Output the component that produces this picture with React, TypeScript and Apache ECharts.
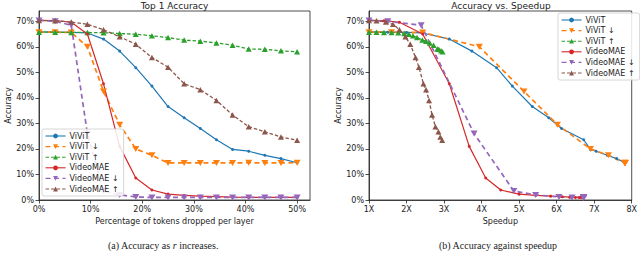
import React, { useEffect, useRef } from 'react';
import * as echarts from 'echarts';

// Percentage of tokens dropped per layer (x of left chart)
const dropPct = [0, 3.125, 6.25, 9.375, 12.5, 15.625, 18.75, 21.875, 25, 28.125, 31.25, 34.375, 37.5, 40.625, 43.75, 46.875, 50];

// Top-1 accuracy (%) per series
const vivitAcc = [65.8, 65.7, 65.6, 65.4, 63.0, 58.3, 51.8, 44.6, 36.6, 32.2, 28.0, 23.6, 19.8, 19.1, 17.5, 16.2, 14.6];
const vivitDownAcc = [65.7, 65.7, 65.6, 60.0, 42.5, 29.5, 20.0, 17.5, 14.5, 14.5, 14.5, 14.5, 14.5, 14.6, 14.5, 14.5, 14.6];
const vivitUpAcc = [65.7, 65.7, 65.6, 65.6, 65.5, 65.2, 64.9, 64.3, 63.6, 62.6, 62.2, 61.5, 60.6, 59.1, 59.0, 58.4, 58.0];
const maeAcc = [70.3, 70.2, 69.6, 65.0, 45.5, 21.0, 8.6, 3.9, 2.3, 1.8, 1.5, 1.3, 1.1, 1.0, 1.0, 1.0, 1.0];
const maeDownAcc = [70.3, 70.0, 68.4, 26.0, 3.5, 2.0, 1.2, 1.0, 1.0, 1.0, 1.0, 1.0, 1.0, 1.0, 1.0, 1.0, 1.0];
const maeUpAcc = [70.3, 70.2, 69.7, 68.8, 66.7, 63.9, 61.0, 55.8, 52.0, 45.5, 43.2, 39.0, 33.3, 28.7, 26.7, 24.7, 23.4];

// Speedup (x of right chart) per series
const vivitSpeed = [1.0, 1.5, 2.0, 2.43, 3.14, 3.74, 4.4, 4.82, 5.35, 5.79, 6.13, 6.72, 6.9, 7.05, 7.35, 7.6, 7.82];
const vivitDownSpeed = [1.0, 1.6, 2.43, 3.94, 5.13, 6.02, 6.9, 7.38, 7.82, 7.82, 7.82, 7.82, 7.82, 7.82, 7.82, 7.82, 7.82];
const vivitUpSpeed = [1.0, 1.2, 1.4, 1.6, 1.78, 1.94, 2.06, 2.17, 2.28, 2.42, 2.52, 2.62, 2.72, 2.82, 2.86, 2.92, 2.96];
const maeSpeed = [1.0, 1.4, 1.81, 2.43, 3.14, 3.67, 4.11, 4.51, 5.0, 5.44, 5.84, 6.15, 6.35, 6.5, 6.6, 6.65, 6.7];
const maeDownSpeed = [1.0, 1.5, 2.39, 3.8, 4.86, 5.44, 6.06, 6.41, 6.72, 6.72, 6.72, 6.72, 6.72, 6.72, 6.72, 6.72, 6.72];
const maeUpSpeed = [1.0, 1.2, 1.45, 1.64, 1.81, 1.97, 2.1, 2.24, 2.33, 2.45, 2.52, 2.6, 2.68, 2.77, 2.85, 2.9, 2.95];

const yTicks = [0, 10, 20, 30, 40, 50, 60, 70];
const xTicksLeft = [0, 10, 20, 30, 40, 50];
const xTicksRight = [1, 2, 3, 4, 5, 6, 7, 8];

const names = ['ViViT', 'ViViT ↓', 'ViViT ↑', 'VideoMAE', 'VideoMAE ↓', 'VideoMAE ↑'];
const colors = ['#1f77b4', '#ff7f0e', '#2ca02c', '#d62728', '#9467bd', '#8c564b'];
const kinds = ['dot', 'down', 'up', 'dot', 'down', 'up'];
const accs = [vivitAcc, vivitDownAcc, vivitUpAcc, maeAcc, maeDownAcc, maeUpAcc];
const speeds = [vivitSpeed, vivitDownSpeed, vivitUpSpeed, maeSpeed, maeDownSpeed, maeUpSpeed];

const FONT = 'DejaVu Sans';
const DOWN_TRI = 'path://M0,0L10,0L5,9Z';

function styleFor(kind: string, color: string) {
  if (kind === 'dot') {
    return {
      symbol: 'circle',
      symbolSize: 3,
      lineStyle: { color, width: 1.2, type: 'solid' as const },
    };
  }
  if (kind === 'down') {
    return {
      symbol: DOWN_TRI,
      symbolSize: [7, 6],
      lineStyle: { color, width: 1.7, type: [5, 3.5] },
    };
  }
  return {
    symbol: 'triangle',
    symbolSize: [6, 5.5],
    lineStyle: { color, width: 1.3, type: [3.5, 2] },
  };
}

function buildSeries() {
  const out: any[] = [];
  for (let g = 0; g < 2; g++) {
    names.forEach((name, i) => {
      const xs = g === 0 ? dropPct : speeds[i];
      out.push({
        type: 'line',
        name,
        xAxisIndex: g,
        yAxisIndex: g,
        data: accs[i].map((a, k) => [xs[k], a]),
        color: colors[i],
        itemStyle: { color: colors[i] },
        showSymbol: true,
        emphasis: { disabled: true },
        ...styleFor(kinds[i], colors[i]),
      });
    });
  }
  return out;
}

function axisCommon() {
  return {
    type: 'value' as const,
    splitLine: { show: false },
    axisLine: { show: true, onZero: false, lineStyle: { color: '#222', width: 0.8 } },
    axisTick: { show: true, length: 3.5, lineStyle: { color: '#222', width: 0.8 } },
    nameTextStyle: { fontFamily: FONT, fontSize: 8, color: '#222' },
  };
}

function legendFor(left: number, top: number) {
  return {
    data: names,
    orient: 'vertical',
    left,
    top,
    itemWidth: 20,
    itemHeight: 6,
    itemGap: 2.6,
    padding: [3, 5, 3, 3],
    backgroundColor: 'rgba(255,255,255,0.85)',
    borderColor: '#cccccc',
    borderWidth: 0.8,
    borderRadius: 2,
    lineStyle: { width: 1.1 },
    textStyle: { fontFamily: FONT, fontSize: 8, color: '#222', padding: [0, 0, 0, -1] },
    selectedMode: false,
  };
}

export default function App() {
  const ref = useRef<HTMLDivElement>(null);
  useEffect(() => {
    if (!ref.current) return;
    const chart = echarts.init(ref.current, null, { renderer: 'svg' });
    const labelStyle = { fontFamily: FONT, fontSize: 8, color: '#222', margin: 5 };
    const option: any = {
      animation: false,
      backgroundColor: '#ffffff',
      grid: [
        { left: 39, top: 11, width: 271, height: 189, show: true, borderColor: '#222', borderWidth: 0.8 },
        { left: 369, top: 11, width: 264, height: 189, show: true, borderColor: '#222', borderWidth: 0.8 },
      ],
      xAxis: [
        {
          ...axisCommon(),
          gridIndex: 0,
          min: 0,
          max: 52.5,
          interval: 10,
          name: 'Percentage of tokens dropped per layer',
          nameLocation: 'middle',
          nameGap: 13,
          axisTick: { ...axisCommon().axisTick, customValues: xTicksLeft },
          axisLabel: { ...labelStyle, customValues: xTicksLeft, formatter: (v: number) => `${v}%` },
        },
        {
          ...axisCommon(),
          gridIndex: 1,
          min: 1,
          max: 8,
          interval: 1,
          name: 'Speedup',
          nameLocation: 'middle',
          nameGap: 13,
          axisTick: { ...axisCommon().axisTick, customValues: xTicksRight },
          axisLabel: { ...labelStyle, customValues: xTicksRight, formatter: (v: number) => `${v}X` },
        },
      ],
      yAxis: [0, 1].map((g) => ({
        ...axisCommon(),
        gridIndex: g,
        min: 0,
        max: 74,
        interval: 10,
        name: 'Accuracy',
        nameLocation: 'middle',
        nameGap: g === 0 ? 17 : 21,
        axisTick: { ...axisCommon().axisTick, customValues: yTicks },
        axisLabel: { ...labelStyle, customValues: yTicks, formatter: (v: number) => `${v}%` },
      })),
      legend: [legendFor(42, 129), legendFor(558, 13)],
      series: buildSeries(),
      graphic: [
        {
          type: 'text',
          x: 174.5,
          y: 5.5,
          style: { text: 'Top 1 Accuracy', fontFamily: FONT, fontSize: 9, fill: '#222', textAlign: 'center', textVerticalAlign: 'middle' },
        },
        {
          type: 'text',
          x: 501,
          y: 5.5,
          style: { text: 'Accuracy vs. Speedup', fontFamily: FONT, fontSize: 9, fill: '#222', textAlign: 'center', textVerticalAlign: 'middle' },
        },
        {
          type: 'text',
          x: 163,
          y: 245,
          style: {
            text: '{n|(a) Accuracy as }{i|r}{n| increases.}',
            textAlign: 'center',
            textVerticalAlign: 'middle',
            rich: {
              n: { fontFamily: 'Liberation Serif', fontSize: 10, fill: '#222' },
              i: { fontFamily: 'Liberation Serif', fontSize: 10, fontStyle: 'italic', fill: '#222' },
            },
          },
        },
        {
          type: 'text',
          x: 498,
          y: 245,
          style: {
            text: '(b) Accuracy against speedup',
            fontFamily: 'Liberation Serif',
            fontSize: 10,
            fill: '#222',
            textAlign: 'center',
            textVerticalAlign: 'middle',
          },
        },
      ],
    };
    chart.setOption(option);
    return () => chart.dispose();
  }, []);
  return (
    <div
      ref={ref}
      style={{ position: 'absolute', left: 0, top: 0, width: 640, height: 264, background: '#fff' }}
    />
  );
}
